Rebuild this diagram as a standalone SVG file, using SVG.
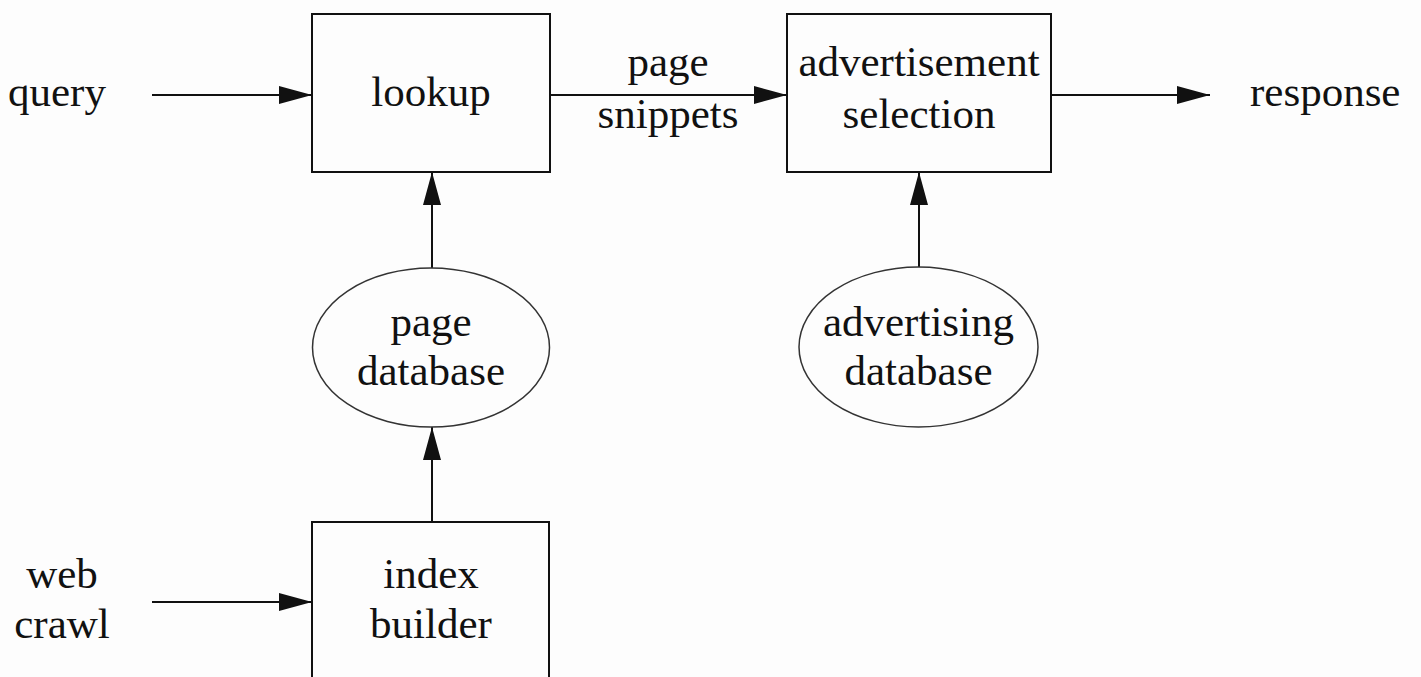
<svg xmlns="http://www.w3.org/2000/svg" width="1421" height="677" viewBox="0 0 1421 677">
  <style>
    text { font-family: "Liberation Serif", "Times New Roman", serif; font-size: 43px; fill: #111; }
    .mid { text-anchor: middle; }
    .box { fill: none; stroke: #111; stroke-width: 2; }
    .db { fill: none; stroke: #333; stroke-width: 1.5; }
    .edge { fill: none; stroke: #111; stroke-width: 2; marker-end: url(#head); }
  </style>
  <defs>
    <marker id="head" markerUnits="userSpaceOnUse" markerWidth="33" markerHeight="18" refX="33" refY="9" orient="auto" overflow="visible">
      <path d="M0,0 L33,9 L0,18 Z" fill="#111"/>
    </marker>
  </defs>
  <rect width="1421" height="677" fill="#fdfdfd"/>

  <!-- connectors -->
  <g id="connectors">
    <line class="edge" x1="152" y1="95" x2="312" y2="95"/>
    <line class="edge" x1="550" y1="95" x2="787" y2="95"/>
    <line class="edge" x1="1051" y1="95" x2="1210" y2="95"/>
    <line class="edge" x1="432" y1="268" x2="432" y2="172"/>
    <line class="edge" x1="919" y1="267" x2="919" y2="172"/>
    <line class="edge" x1="432" y1="522" x2="432" y2="427"/>
    <line class="edge" x1="152" y1="602" x2="312" y2="602"/>
  </g>

  <!-- free labels -->
  <g id="query"><text x="8" y="106">query</text></g>
  <g id="response"><text x="1250" y="106">response</text></g>
  <g id="web-crawl">
    <text class="mid" x="62" y="588">web</text>
    <text class="mid" x="62" y="638">crawl</text>
  </g>
  <g id="page-snippets">
    <text class="mid" x="668" y="76">page</text>
    <text class="mid" x="668" y="128">snippets</text>
  </g>

  <!-- process boxes -->
  <g id="lookup">
    <rect class="box" x="312" y="14" width="238" height="158"/>
    <text class="mid" x="431" y="106">lookup</text>
  </g>
  <g id="advertisement-selection">
    <rect class="box" x="787" y="14" width="264" height="158"/>
    <text class="mid" x="919" y="76">advertisement</text>
    <text class="mid" x="919" y="128">selection</text>
  </g>
  <g id="index-builder">
    <rect class="box" x="312" y="522" width="237" height="170"/>
    <text class="mid" x="431" y="588">index</text>
    <text class="mid" x="431" y="638">builder</text>
  </g>

  <!-- databases -->
  <g id="page-database">
    <ellipse class="db" cx="431" cy="347.5" rx="118.5" ry="79.5"/>
    <text class="mid" x="431" y="336">page</text>
    <text class="mid" x="431" y="385">database</text>
  </g>
  <g id="advertising-database">
    <ellipse class="db" cx="918.5" cy="347" rx="119.5" ry="80"/>
    <text class="mid" x="918.5" y="336">advertising</text>
    <text class="mid" x="918.5" y="385">database</text>
  </g>
</svg>
